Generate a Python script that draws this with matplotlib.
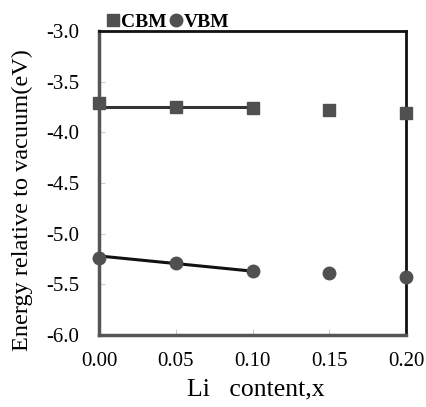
import matplotlib
matplotlib.use("Agg")
import matplotlib.pyplot as plt
from matplotlib.lines import Line2D

# Data
li_content = [0.00, 0.05, 0.10, 0.15, 0.20]
cbm = [-3.71, -3.75, -3.76, -3.78, -3.81]
vbm = [-5.24, -5.29, -5.37, -5.385, -5.43]

# trend lines drawn over the first three points
trend_x = [0.00, 0.10]
cbm_trend = [-3.75, -3.75]
vbm_trend = [-5.22, -5.37]

xticks = [0.00, 0.05, 0.10, 0.15, 0.20]
yticks = [-6.0, -5.5, -5.0, -4.5, -4.0, -3.5, -3.0]

plt.rcParams['font.family'] = ['Liberation Serif', 'DejaVu Serif']

fig = plt.figure(figsize=(4.26, 4.07), dpi=100)
ax = fig.add_axes([99 / 426, 1 - 335 / 407, 307 / 426, 304 / 407])

marker_color = '#505050'
ax.plot(trend_x, cbm_trend, color='#333333', lw=2.2, zorder=2)
ax.plot(trend_x, vbm_trend, color='#111111', lw=2.2, zorder=2)
ax.plot(li_content, cbm, 's', color=marker_color, ms=8.5, zorder=3, clip_on=False)
ax.plot(li_content, vbm, 'o', color=marker_color, ms=9, zorder=3, clip_on=False)

ax.set_xlim(0, 0.2)
ax.set_ylim(-6, -3)
ax.set_xticks(xticks)
ax.set_xticklabels([f"{v:.2f}" for v in xticks])
ax.set_yticks(yticks)
ax.set_yticklabels([f"{v:.1f}" for v in yticks])
ax.tick_params(direction='in', length=4, color='#cccccc', labelsize=15)
ax.tick_params(axis='x', pad=12)
ax.tick_params(axis='y', pad=14)

for side in ['left', 'bottom']:
    ax.spines[side].set_color('#555555')
    ax.spines[side].set_linewidth(2.5)
for side in ['top', 'right']:
    ax.spines[side].set_color('#111111')
    ax.spines[side].set_linewidth(2)

ax.set_xlabel("Li   content,x", fontsize=18.5)
ax.xaxis.set_label_coords(0.51, -0.143)
ax.set_ylabel("Energy relative to vacuum(eV)", fontsize=17.5)
ax.yaxis.set_label_coords(-0.215, 0.445)

handles = [Line2D([], [], marker='s', color=marker_color, ls='none', ms=8.5),
           Line2D([], [], marker='o', color=marker_color, ls='none', ms=9)]
fig.legend(handles, ['CBM', 'VBM'], loc='center left', bbox_to_anchor=(105 / 426, 1 - 22 / 407),
           ncol=2, frameon=False, handletextpad=0.0, columnspacing=0.1, handlelength=0.8,
           borderaxespad=0, borderpad=0, prop={'weight': 'bold', 'size': 14})

fig.savefig("out.png", dpi=100)
